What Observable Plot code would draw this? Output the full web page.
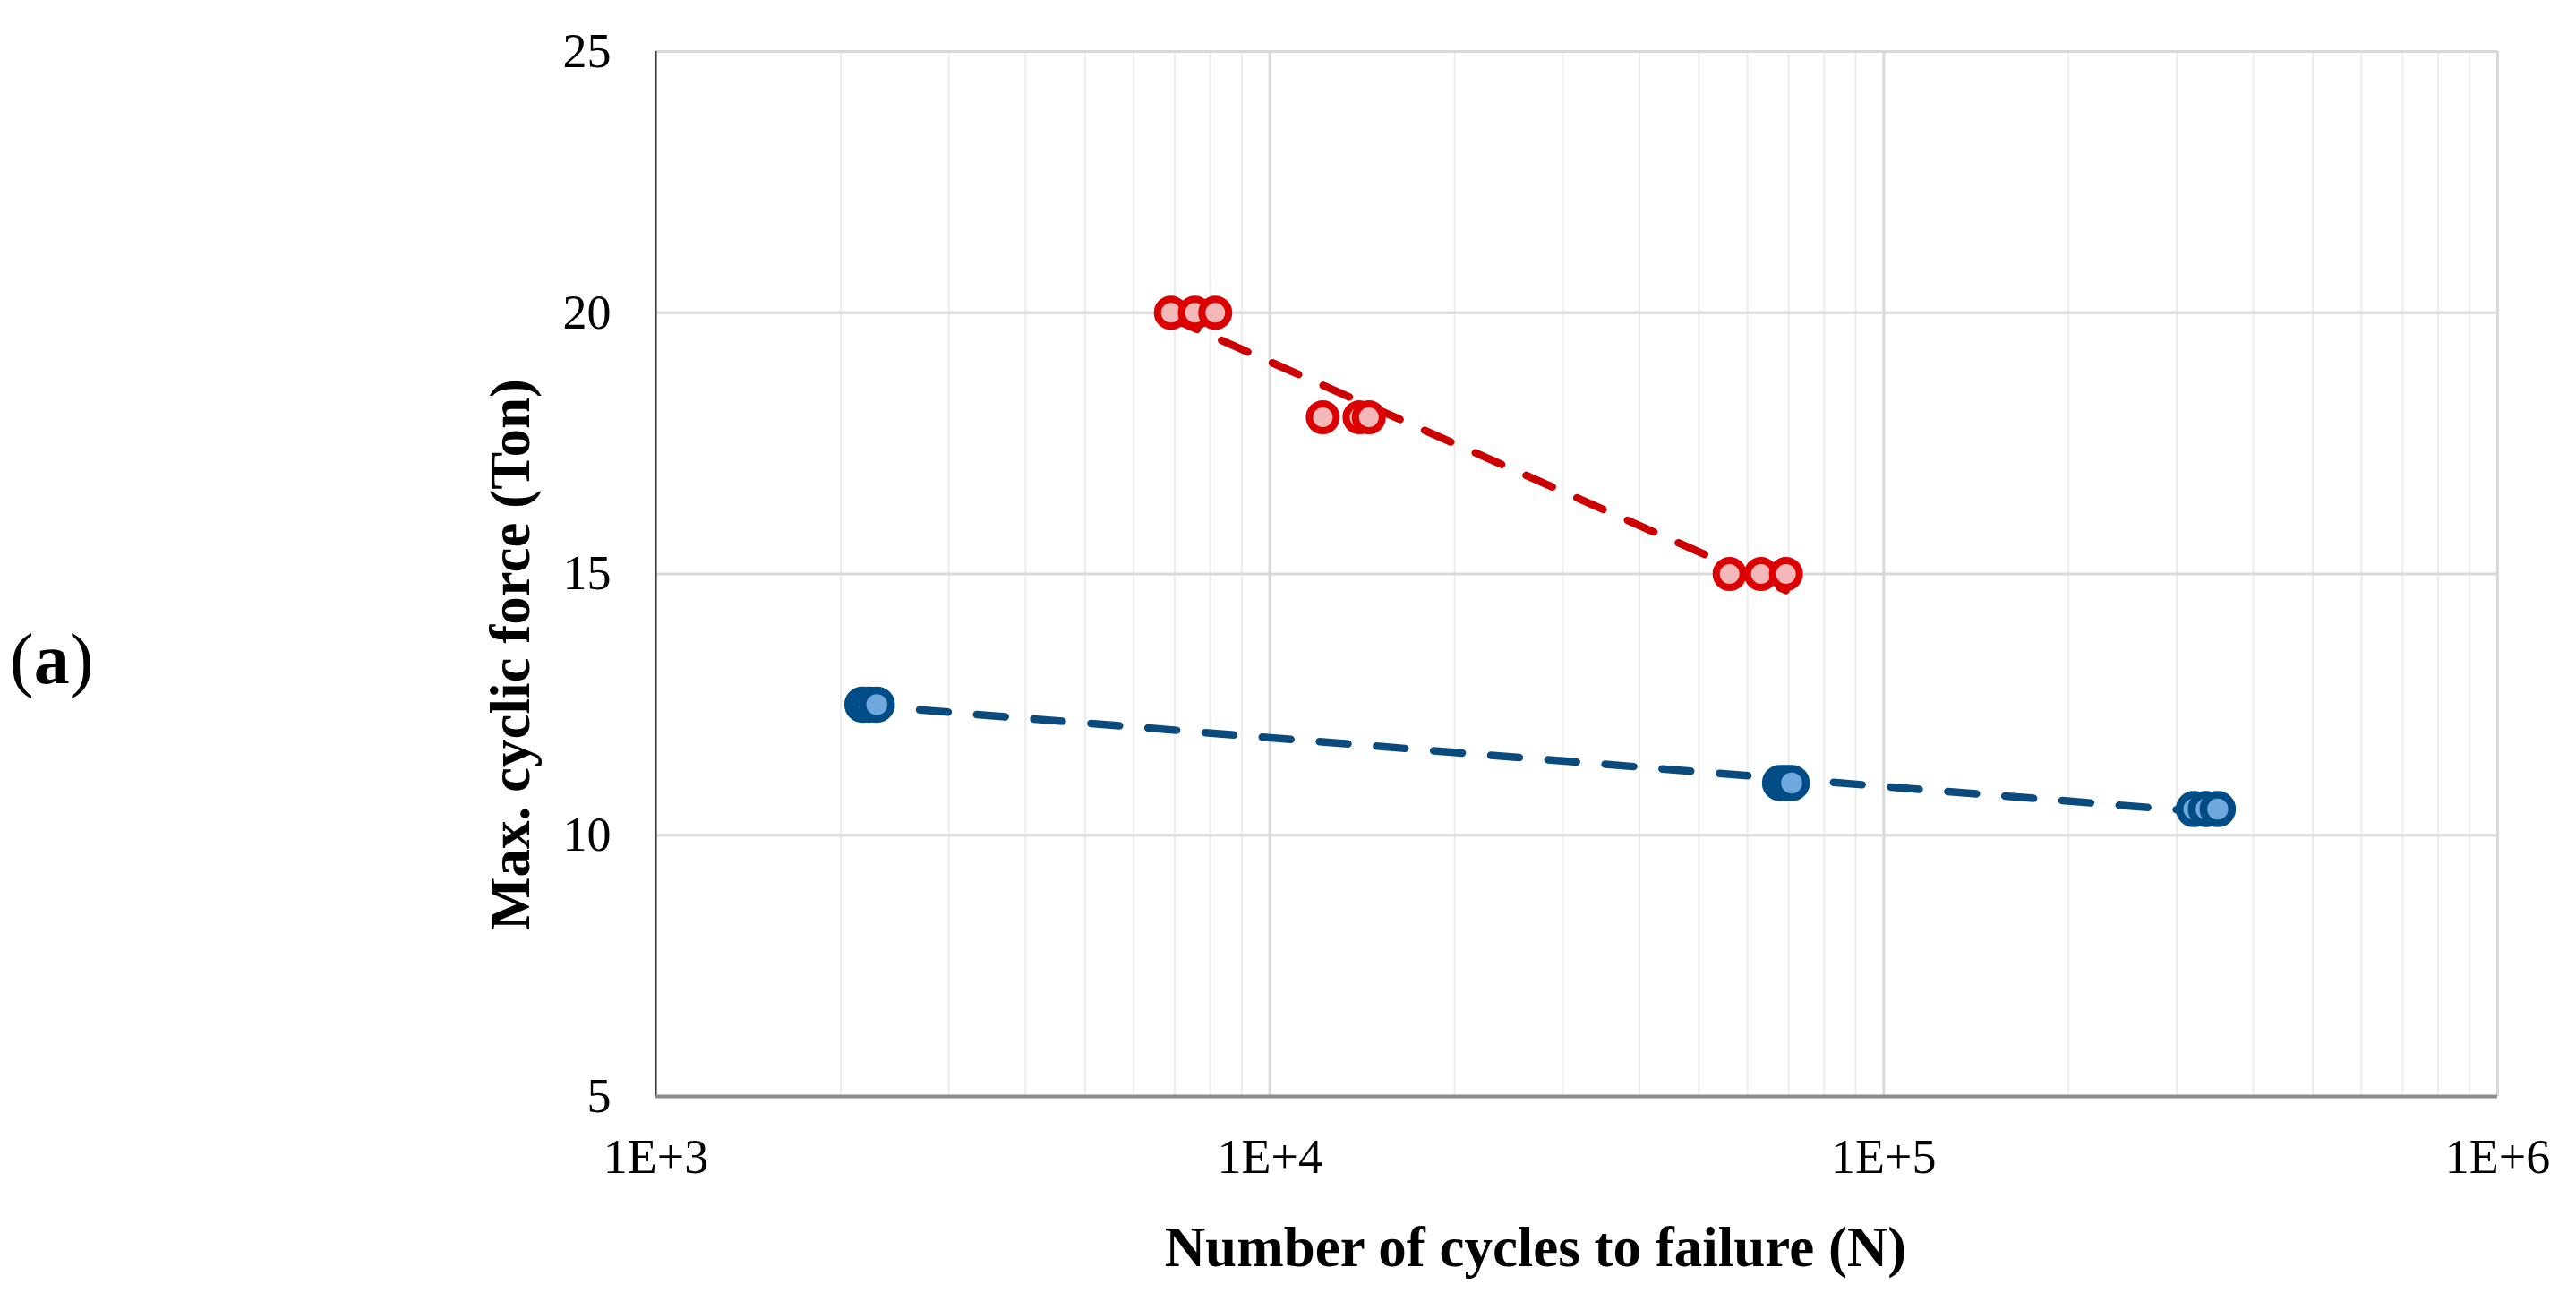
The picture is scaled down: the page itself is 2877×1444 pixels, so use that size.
<!DOCTYPE html>
<html>
<head>
<meta charset="utf-8">
<script src="https://cdn.jsdelivr.net/npm/d3@7"></script>
<script src="https://cdn.jsdelivr.net/npm/@observablehq/plot@0.6"></script>
<style>
  html, body { margin: 0; padding: 0; background: #fff; }
  #chart { width: 2877px; height: 1444px; }
</style>
</head>
<body>
<div id="chart"></div>
<script>
// ---- Data ----
const redCycles  = [6900, 7550, 8150, 12200, 14000, 14500, 56100, 63100, 69300];
const redForce   = [20, 20, 20, 18, 18, 18, 15, 15, 15];
const blueCycles = [2170, 2225, 2290, 67800, 69300, 70800, 320000, 335000, 350000];
const blueForce  = [12.5, 12.5, 12.5, 11, 11, 11, 10.5, 10.5, 10.5];

const xTickValues = [1e3, 1e4, 1e5, 1e6];
const yTickValues = [5, 10, 15, 20, 25];
const xTickLabels = ["1E+3", "1E+4", "1E+5", "1E+6"];
const yTickLabels = ["5", "10", "15", "20", "25"];

const xTitle = "Number of cycles to failure (N)";
const yTitle = "Max. cyclic force (Ton)";
const panelLabel = "a";

// ---- Derived tables ----
const red = redCycles.map((n, i) => ({n, f: redForce[i]}));
const blue = blueCycles.map((n, i) => ({n, f: blueForce[i]}));

// logarithmic trendline (least squares on log10 N), drawn from min to max N
function logFit(xs, ys) {
  const lx = xs.map(Math.log10);
  const mx = d3.mean(lx), my = d3.mean(ys);
  const b = d3.sum(lx, (v, i) => (v - mx) * (ys[i] - my)) / d3.sum(lx, v => (v - mx) ** 2);
  const a = my - b * mx;
  return d3.extent(xs).map(n => ({n, f: a + b * Math.log10(n)}));
}
const redTrend = logFit(redCycles, redForce);
const blueTrend = logFit(blueCycles, blueForce);

// minor gridline values (2..9 in each decade)
const minorX = [];
for (let e = 3; e < 6; e++) for (let k = 2; k <= 9; k++) minorX.push(k * 10 ** e);

const W = 2877, H = 1444;
const chart = Plot.plot({
  width: W,
  height: H,
  marginLeft: 732,
  marginRight: 88,
  marginTop: 57,
  marginBottom: 220,
  style: {fontFamily: "'Liberation Serif', 'Times New Roman', serif", fontSize: "54px", background: "#fff", color: "#000"},
  x: {type: "log", domain: [1e3, 1e6]},
  y: {domain: [5, 25]},
  marks: [
    Plot.gridX(minorX, {stroke: "#ececec", strokeWidth: 2, strokeOpacity: 1}),
    Plot.gridX(xTickValues, {stroke: "#d9d9d9", strokeWidth: 3, strokeOpacity: 1}),
    Plot.gridY(yTickValues, {stroke: "#d9d9d9", strokeWidth: 3, strokeOpacity: 1}),
    Plot.ruleX([1e3], {stroke: "#3f3f3f", strokeWidth: 2}),
    Plot.ruleY([5], {stroke: "#8c8c8c", strokeWidth: 4}),
    Plot.axisX(xTickValues, {tickSize: 0, tickPadding: 47, label: null, fill: "#000",
      tickFormat: (d) => xTickLabels[xTickValues.indexOf(d)]}),
    Plot.axisY(yTickValues, {tickSize: 0, tickPadding: 50, label: null, fill: "#000",
      tickFormat: (d) => yTickLabels[yTickValues.indexOf(d)]}),
    Plot.line(redTrend, {x: "n", y: "f", stroke: "#cc0000", strokeWidth: 8.5, strokeDasharray: "32,30"}),
    Plot.line(blueTrend, {x: "n", y: "f", stroke: "#0b4a7d", strokeWidth: 8.5, strokeDasharray: "32,32"}),
    Plot.dot(red, {x: "n", y: "f", r: 15, fill: "#f5b8b8", stroke: "#dd0000", strokeWidth: 8}),
    Plot.dot(blue, {x: "n", y: "f", r: 16, fill: "#6fa8dc", stroke: "#004c86", strokeWidth: 8.5})
  ]
});

const svg = d3.select(chart);
svg.append("text")
  .attr("x", 1715).attr("y", 1414)
  .attr("text-anchor", "middle")
  .attr("font-weight", "bold")
  .attr("font-size", 63)
  .attr("fill", "#000")
  .text(xTitle);
svg.append("text")
  .attr("transform", "translate(591,731) rotate(-90)")
  .attr("text-anchor", "middle")
  .attr("font-weight", "bold")
  .attr("font-size", 63)
  .attr("fill", "#000")
  .text(yTitle);
const pl = svg.append("text")
  .attr("x", 11).attr("y", 763)
  .attr("text-anchor", "start")
  .attr("font-size", 80)
  .attr("fill", "#000");
pl.append("tspan").text("(");
pl.append("tspan").attr("font-weight", "bold").text(panelLabel);
pl.append("tspan").text(")");

document.getElementById("chart").appendChild(chart);
</script>
</body>
</html>
